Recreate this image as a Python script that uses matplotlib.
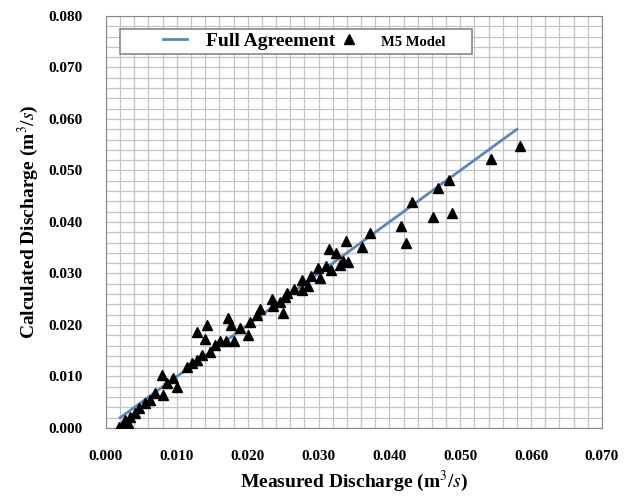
import numpy as np
from matplotlib import pyplot as plt
from matplotlib.ticker import MultipleLocator
from matplotlib.patches import Rectangle

plt.rc('font', **{'family': 'serif', 'serif': ['Liberation Serif', 'DejaVu Serif']})
plt.rc('mathtext', fontset='stix')

# measured vs calculated discharge (m3/s)
measured = [0.0018, 0.0022, 0.0027, 0.0031, 0.0034, 0.0041, 0.0046, 0.0055, 0.0062,
            0.0069, 0.0080, 0.0079, 0.0094, 0.0086, 0.0100, 0.0114, 0.0121, 0.0128,
            0.0135, 0.0147, 0.0154, 0.0161, 0.0170, 0.0180, 0.0142, 0.0129, 0.0140,
            0.0172, 0.0177, 0.0189, 0.0201, 0.0203, 0.0213, 0.0217,
            0.0234, 0.0236, 0.0250, 0.0252, 0.0255, 0.0276, 0.0285, 0.0276, 0.0302,
            0.0299, 0.0318, 0.0330, 0.0342, 0.0324, 0.0315, 0.0362, 0.0339, 0.0373,
            0.0245, 0.0265, 0.0290, 0.0310, 0.0335,
            0.0584, 0.0544, 0.0484, 0.0468, 0.0432, 0.0488, 0.0462, 0.0417, 0.0423]
calculated = [0.0002, 0.0003, 0.0016, 0.0009, 0.0022, 0.0029, 0.0038, 0.0048, 0.0054,
              0.0067, 0.0064, 0.0103, 0.0097, 0.0087, 0.0080, 0.0119, 0.0126, 0.0132,
              0.0142, 0.0148, 0.0161, 0.0168, 0.0168, 0.0168, 0.0200, 0.0187, 0.0172,
              0.0213, 0.0200, 0.0194, 0.0181, 0.0206, 0.0219, 0.0231,
              0.0250, 0.0236, 0.0223, 0.0254, 0.0262, 0.0268, 0.0276, 0.0287, 0.0291,
              0.0310, 0.0307, 0.0317, 0.0323, 0.0340, 0.0348, 0.0351, 0.0364, 0.0378,
              0.0245, 0.0270, 0.0295, 0.0315, 0.0325,
              0.0548, 0.0522, 0.0482, 0.0465, 0.0439, 0.0417, 0.0410, 0.0392, 0.0360]

agree = [0.002, 0.058]

fig = plt.figure(figsize=(6.29, 4.98), dpi=100)
ax = fig.add_axes([0.1685, 0.1406, 0.7885, 0.8274])

ax.plot(agree, agree, color='#5b86b8', lw=2, label='Full Agreement', zorder=3)
ax.plot(measured, calculated, '^', color='black', ms=7, ls='none', label='M5 Model', zorder=4)

ax.set_xlim(0, 0.070)
ax.set_ylim(0, 0.080)
ax.xaxis.set_major_locator(MultipleLocator(0.010))
ax.yaxis.set_major_locator(MultipleLocator(0.010))
ax.xaxis.set_minor_locator(MultipleLocator(0.002))
ax.yaxis.set_minor_locator(MultipleLocator(0.002))
ax.grid(which='both', color='#c4c4c4', lw=0.9)
ax.set_axisbelow(True)
ax.tick_params(which='both', length=0)
ax.tick_params(axis='y', pad=17)
ax.tick_params(axis='x', pad=16)
ax.xaxis.set_major_formatter(plt.FuncFormatter(lambda v, p: '%.3f' % v))
ax.yaxis.set_major_formatter(plt.FuncFormatter(lambda v, p: '%.3f' % v))
for tl in ax.get_xticklabels() + ax.get_yticklabels():
    tl.set_fontweight('bold')
    tl.set_fontsize(11)
for s in ax.spines.values():
    s.set_color('#888888')

ax.set_xlabel('Measured Discharge (m$^3/s$)', fontsize=14, fontweight='bold', labelpad=4)
ax.set_ylabel('Calculated Discharge (m$^3/s$)', fontsize=14, fontweight='bold', labelpad=5)

# legend box drawn separately so the entries can sit loosely inside it
ax.add_patch(Rectangle((0.028, 0.908), 0.71, 0.060, transform=ax.transAxes,
                       facecolor='white', edgecolor='#888888', lw=1.2, zorder=5))
leg = ax.legend(ncol=2, loc='center left', bbox_to_anchor=(0.115, 0.938),
                frameon=False, handlelength=1.24, columnspacing=0.1,
                handletextpad=0.98, borderpad=0, borderaxespad=0,
                prop={'weight': 'bold', 'size': 14})
leg.set_zorder(6)
leg.get_texts()[1].set_fontsize(10.5)

fig.savefig('out.png', dpi=100)
